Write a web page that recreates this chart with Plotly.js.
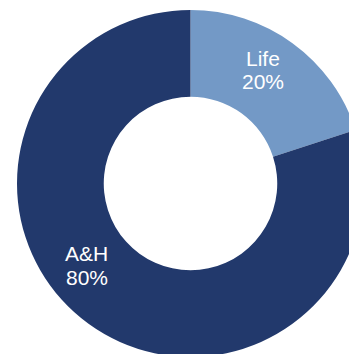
<!DOCTYPE html>
<html>
<head>
<meta charset="utf-8">
<script src="https://cdn.plot.ly/plotly-3.0.1.min.js"></script>
<style>
html, body { margin: 0; padding: 0; overflow: hidden; background: #ffffff; }
#chart { width: 381px; height: 367px; }
</style>
</head>
<body>
<div id="chart"></div>
<script>
const categories = ["Life", "A&H"];
const shares = [20, 80];
const colors = ["#7399C6", "#22396C"];

const W = 381, H = 367;
// label anchor positions (pixels) for name line and value line
const labelPos = [
  { x: 263, yName: 58, yValue: 82 },
  { x: 86.5, yName: 253, yValue: 277 }
];

const trace = {
  type: "pie",
  labels: categories,
  values: shares,
  hole: 0.5,
  sort: false,
  direction: "clockwise",
  rotation: 0,
  marker: { colors: colors, line: { width: 0 } },
  textinfo: "none",
  hoverinfo: "none",
  domain: { x: [17 / W, 364 / W], y: [10 / H, 357 / H] }
};

const font = { family: "Liberation Sans, Arial, sans-serif", size: 21, color: "#ffffff" };
const annotations = [];
categories.forEach((c, i) => {
  const p = labelPos[i];
  annotations.push({ xref: "paper", yref: "paper", x: p.x / W, y: 1 - p.yName / H,
    xanchor: "center", yanchor: "middle", showarrow: false, text: c, font: font });
  annotations.push({ xref: "paper", yref: "paper", x: p.x / W, y: 1 - p.yValue / H,
    xanchor: "center", yanchor: "middle", showarrow: false, text: shares[i] + "%", font: font });
});

const layout = {
  width: W,
  height: H,
  margin: { l: 0, r: 0, t: 0, b: 0, pad: 0 },
  showlegend: false,
  paper_bgcolor: "#ffffff",
  plot_bgcolor: "#ffffff",
  annotations: annotations
};

Plotly.newPlot("chart", [trace], layout, { displayModeBar: false, staticPlot: true });
</script>
</body>
</html>
